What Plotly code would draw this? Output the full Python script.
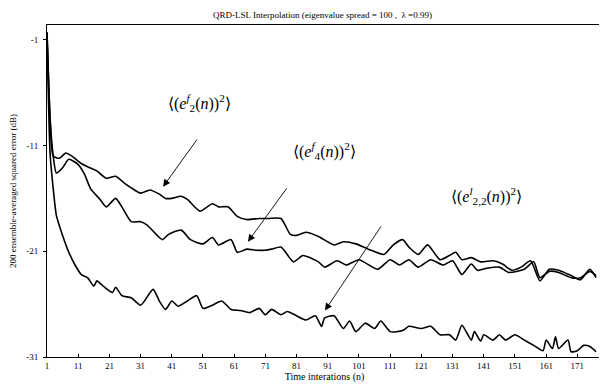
import plotly.graph_objects as go

# Iteration indices and ensemble-averaged squared error (dB)
n_e2f = [1, 2, 3, 5, 7, 9, 12, 14, 17, 20, 23, 26, 28, 31, 34, 37, 39, 41, 44, 46, 50, 54, 56, 59,
         62, 65, 69, 72, 76, 79, 81, 84, 88, 93, 96, 100, 104, 109, 112, 115, 117, 120, 123, 127,
         130, 132, 134, 137, 140, 144, 147, 150, 153, 156, 159, 162, 165, 169, 172, 175, 177]
y_e2f = [-0.3, -8.5, -12.0, -12.2, -11.7, -12.0, -12.7, -13.0, -13.4, -14.1, -13.9, -14.6, -15.0,
         -15.5, -15.2, -15.6, -16.0, -16.0, -15.8, -16.1, -17.2, -16.5, -16.8, -16.8, -17.7, -18.0,
         -17.9, -17.9, -17.9, -19.4, -19.5, -19.2, -19.6, -20.4, -20.1, -20.3, -20.8, -21.3, -20.4,
         -19.9, -20.6, -21.3, -20.4, -21.8, -21.4, -21.1, -21.8, -21.6, -22.0, -21.9, -22.2, -22.8,
         -22.5, -21.9, -23.8, -22.7, -22.8, -23.3, -23.7, -22.7, -23.5]

n_e4f = [1, 2, 3, 4, 6, 8, 11, 13, 15, 18, 20, 23, 25, 28, 31, 33, 36, 38, 40, 44, 47, 51, 54, 56,
         60, 62, 65, 68, 71, 73, 76, 80, 83, 86, 88, 90, 94, 97, 101, 107, 111, 114, 117, 120, 124,
         128, 131, 134, 137, 139, 142, 146, 149, 154, 157, 159, 162, 165, 169, 172, 175, 177]
y_e4f = [-0.3, -8.5, -12.0, -13.6, -13.1, -12.3, -12.8, -13.7, -15.1, -16.1, -16.8, -16.0, -16.8,
         -18.2, -18.2, -18.5, -19.4, -19.9, -19.4, -19.0, -19.9, -20.3, -19.7, -20.4, -19.9, -21.1,
         -20.8, -20.9, -20.9, -20.8, -20.6, -22.0, -21.4, -21.7, -22.0, -22.5, -21.9, -22.3, -21.8,
         -22.7, -21.8, -22.3, -21.8, -22.5, -21.8, -22.3, -21.9, -23.2, -22.2, -22.8, -22.6, -22.5,
         -23.0, -22.7, -22.0, -23.5, -22.9, -23.0, -23.5, -23.5, -22.9, -23.3]

n_e22l = [1, 2, 3, 4, 6, 8, 10, 12, 14, 16, 17, 19, 22, 23, 25, 28, 31, 35, 37, 39, 41, 43, 46, 49,
          51, 54, 57, 60, 63, 66, 69, 71, 73, 76, 78, 81, 84, 87, 89, 90, 93, 96, 98, 100, 103, 106,
          108, 111, 115, 117, 121, 124, 127, 130, 132, 134, 137, 138, 140, 141, 144, 146, 148, 151,
          154, 157, 160, 161, 163, 164, 165, 168, 169, 171, 173, 175, 177]
y_e22l = [-0.3, -11.8, -15.1, -17.6, -19.5, -21.1, -22.3, -23.2, -23.5, -24.3, -23.8, -24.3, -24.9,
          -24.4, -25.2, -25.4, -26.1, -24.6, -25.7, -26.5, -25.7, -26.2, -25.7, -25.2, -26.4, -26.1,
          -25.7, -26.5, -26.6, -26.8, -26.4, -27.0, -26.5, -27.0, -26.7, -27.1, -27.5, -27.1, -28.1,
          -27.3, -27.1, -28.3, -27.6, -28.6, -27.8, -28.3, -27.6, -28.6, -28.5, -28.1, -28.3, -28.1,
          -28.9, -28.9, -29.4, -28.0, -29.4, -28.6, -29.5, -28.9, -29.4, -28.9, -29.4, -28.9, -29.4,
          -29.9, -30.4, -29.4, -30.2, -29.1, -30.2, -29.4, -30.5, -30.4, -29.9, -30.0, -30.5]

x_ticks = [1, 11, 21, 31, 41, 51, 61, 71, 81, 91, 101, 111, 121, 131, 141, 151, 161, 171]
y_ticks = [-31, -21, -11, -1]

FONT = "Liberation Serif"

fig = go.Figure()
for xs, ys in [(n_e2f, y_e2f), (n_e4f, y_e4f), (n_e22l, y_e22l)]:
    fig.add_trace(go.Scatter(x=xs, y=ys, mode="lines",
                             line=dict(color="black", width=1.6, shape="spline", smoothing=0.6),
                             showlegend=False, hoverinfo="skip"))

labels = [
    dict(text="⟨(<i>e</i><sup><i>f</i></sup><sub>2</sub>(<i>n</i>))<sup>2</sup>⟩", x=50, y=-7.0,
         tail=(49.4, -10.3), tip=(38.2, -14.9)),
    dict(text="⟨(<i>e</i><sup><i>f</i></sup><sub>4</sub>(<i>n</i>))<sup>2</sup>⟩", x=90, y=-11.5,
         tail=(78.2, -14.9), tip=(65.4, -20.1)),
    dict(text="⟨(<i>e</i><sup><i>l</i></sup><sub>2,2</sub>(<i>n</i>))<sup>2</sup>⟩", x=142, y=-15.8,
         tail=(108.4, -18.5), tip=(90.1, -26.6)),
]
for lb in labels:
    fig.add_annotation(x=lb["x"], y=lb["y"], text=lb["text"], showarrow=False,
                       font=dict(family=FONT, size=16, color="black"))
    fig.add_annotation(x=lb["tip"][0], y=lb["tip"][1], ax=lb["tail"][0], ay=lb["tail"][1],
                       axref="x", ayref="y", xref="x", yref="y", text="", showarrow=True,
                       arrowhead=2, arrowsize=1.6, arrowwidth=0.9, arrowcolor="black")

# the page body adds an 8px offset, so the figure is 8px smaller on each side
fig.update_layout(
    width=599, height=379,
    margin=dict(l=39, r=5, t=17, b=30, autoexpand=False),
    paper_bgcolor="white", plot_bgcolor="white",
    font=dict(family=FONT, size=9, color="black"),
    title=dict(text="QRD-LSL Interpolation (eigenvalue spread = 100 ,  λ =0.99)",
               x=0.525, xanchor="center", y=0.99, yanchor="top", automargin=False,
               font=dict(family=FONT, size=9, color="black")),
)
fig.update_xaxes(range=[1, 178.9], tickvals=x_ticks, ticktext=[str(t) for t in x_ticks],
                 automargin=False,
                 showgrid=False, zeroline=False, showline=True, linecolor="black", linewidth=1,
                 mirror=True, ticks="inside", ticklen=3, tickcolor="black",
                 title=dict(text="Time interations (n)", font=dict(family=FONT, size=10), standoff=0),
                 tickfont=dict(family=FONT, size=9))
fig.update_yaxes(range=[-31, 0.4], tickvals=y_ticks, ticktext=["-31", "-21", "-11", "-1"],
                 automargin=False, ticklabelstandoff=3,
                 showgrid=False, zeroline=False, showline=True, linecolor="black", linewidth=1,
                 mirror=True, ticks="outside", ticklen=3, tickcolor="black",
                 title=dict(text="200 ensemble-averaged squared error (dB)",
                            font=dict(family=FONT, size=9), standoff=8),
                 tickfont=dict(family=FONT, size=9))

fig.write_html("out.html")
